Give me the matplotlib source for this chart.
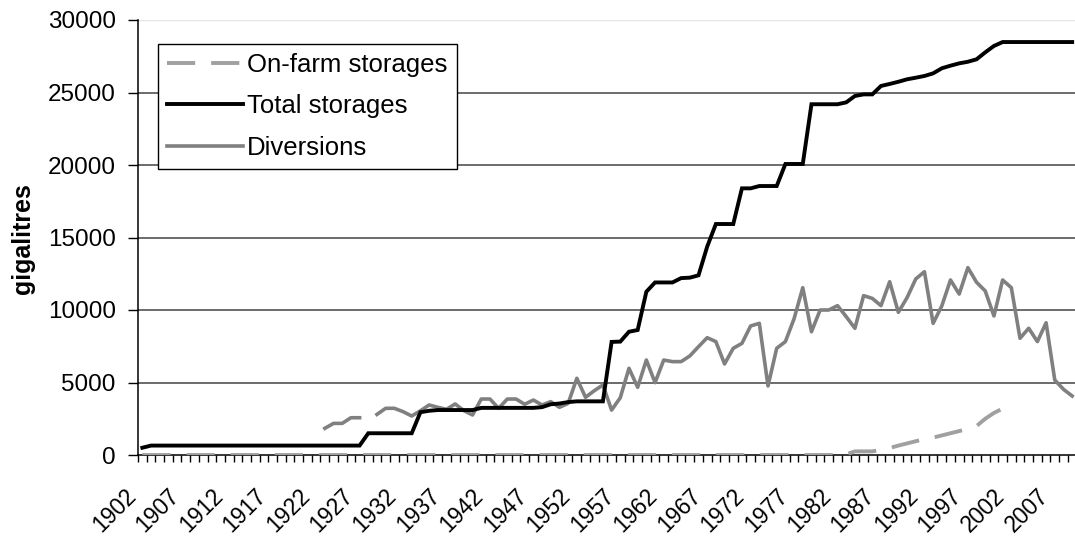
import numpy as np
import matplotlib
matplotlib.use("Agg")
import matplotlib.pyplot as plt
from matplotlib.ticker import FixedLocator, NullFormatter
from matplotlib.transforms import ScaledTranslation

plt.rcParams["font.family"] = ["Liberation Sans", "DejaVu Sans"]

# Years 1902-2009
years = list(range(1902, 2010))
nan = np.nan

total_storages = [500] + [650] * 25 + [1500] * 6 + [
    2950, 3050, 3100, 3100, 3100, 3100, 3100, 3250,
    3250, 3250, 3250, 3250, 3250, 3250, 3300, 3500, 3550, 3650,
    3700, 3700, 3700, 3700, 7800, 7820, 8500, 8620, 11260, 11900,
    11900, 11900, 12200, 12230, 12390, 14370, 15930, 15930, 15930, 18390,
    18390, 18550, 18550, 18550, 20070, 20070, 20070, 24190, 24190, 24190,
    24190, 24320, 24760, 24870, 24870, 25450, 25590, 25740, 25910, 26020,
    26140, 26320, 26670, 26850, 27010, 27120, 27290, 27770, 28210,
] + [28480] * 9

diversions = [nan] * 21 + [
    1840, 2180, 2180, 2570, 2570, nan, 2800, 3220, 3220, 2990,
    2690, 3050, 3450, 3290, 3150, 3520, 3060, 2760, 3860, 3860,
    3220, 3860, 3860, 3500, 3790, 3450, 3680, 3290, 3560, 5290,
    3980, 4430, 4830, 3100, 3950, 5980, 4670, 6550, 4990, 6550,
    6440, 6440, 6830, 7470, 8090, 7820, 6280, 7360, 7700, 8900,
    9080, 4760, 7360, 7820, 9400, 11540, 8500, 10000, 10000, 10300,
    9540, 8740, 10990, 10800, 10300, 11950, 9840, 10850, 12140, 12640,
    9080, 10280, 12070, 11100, 12920, 11910, 11310, 9590, 12070, 11540,
    8050, 8740, 7820, 9120, 5170, 4530, 4070,
]

on_farm = [0] * 81 + [
    50, 250, 250, 250, 350, 480, 650, 800, 950, 1100,
    1200, 1350, 1500, 1650, 1800, 2000, 2500, 2900, 3200,
] + [nan] * 8

x = np.arange(len(years))

fig = plt.figure(figsize=(10.75, 5.39), dpi=100)
W, H = 1075, 539
left_px, right_px, top_px, bottom_px = 138, 1076.5, 20, 455
ax = fig.add_axes([left_px / W, 1 - bottom_px / H,
                   (right_px - left_px) / W, (bottom_px - top_px) / H])

# horizontal gridlines
for v in range(5000, 30000, 5000):
    ax.axhline(v, color="#444444", lw=1.1, zorder=1)
ax.axhline(30000, color="#e4e4e4", lw=1.0, zorder=1)

ax.plot(x, on_farm, color="#a0a0a0", lw=2.8, dashes=(7.25, 4.1),
        solid_capstyle="butt", label="On-farm storages", zorder=3)
ax.plot(x, total_storages, color="black", lw=2.8,
        solid_joinstyle="miter", label="Total storages", zorder=4)
ax.plot(x, diversions, color="#808080", lw=2.6,
        label="Diversions", zorder=3)

ax.set_xlim(-0.5, len(years) - 0.5)
ax.set_ylim(0, 30000)

# category axis: ticks between years, labels every fifth year
label_idx = list(range(0, len(years), 5))
ax.set_xticks(label_idx)
ax.set_xticklabels([str(years[i]) for i in label_idx], rotation=45,
                   ha="right", va="center", rotation_mode="anchor",
                   fontsize=16.5)
ax.tick_params(axis="x", which="major", length=0, pad=27)
shift = ScaledTranslation(-10 / 100, 0, fig.dpi_scale_trans)
for lab in ax.get_xticklabels():
    lab.set_transform(lab.get_transform() + shift)
ax.xaxis.set_minor_locator(FixedLocator(np.arange(-0.5, len(years), 1.0)))
ax.xaxis.set_minor_formatter(NullFormatter())
ax.tick_params(axis="x", which="minor", length=5, width=1, direction="out",
               color="black")

ax.set_yticks(range(0, 30001, 5000))
ax.tick_params(axis="y", length=7, width=1, direction="out", pad=9,
               labelsize=17.5)
ax.set_ylabel("gigalitres", fontsize=18, fontweight="bold",
              ha="center", va="center")
ax.yaxis.set_label_coords(23.5 / W, 1 - 239 / H, transform=fig.transFigure)

for side in ["top", "right"]:
    ax.spines[side].set_visible(False)
for side in ["left", "bottom"]:
    ax.spines[side].set_color("black")
    ax.spines[side].set_linewidth(1.1)

leg = ax.legend(loc="upper left", bbox_to_anchor=(158 / W, 1 - 44 / H),
                bbox_transform=fig.transFigure, fontsize=18.5,
                frameon=True, fancybox=False, framealpha=1,
                edgecolor="black", handlelength=2.95, handletextpad=0.17,
                labelspacing=0.68, borderpad=0.35, borderaxespad=0)
leg.get_frame().set_linewidth(1.0)
leg.set_zorder(5)

fig.savefig("out.png", dpi=100)
